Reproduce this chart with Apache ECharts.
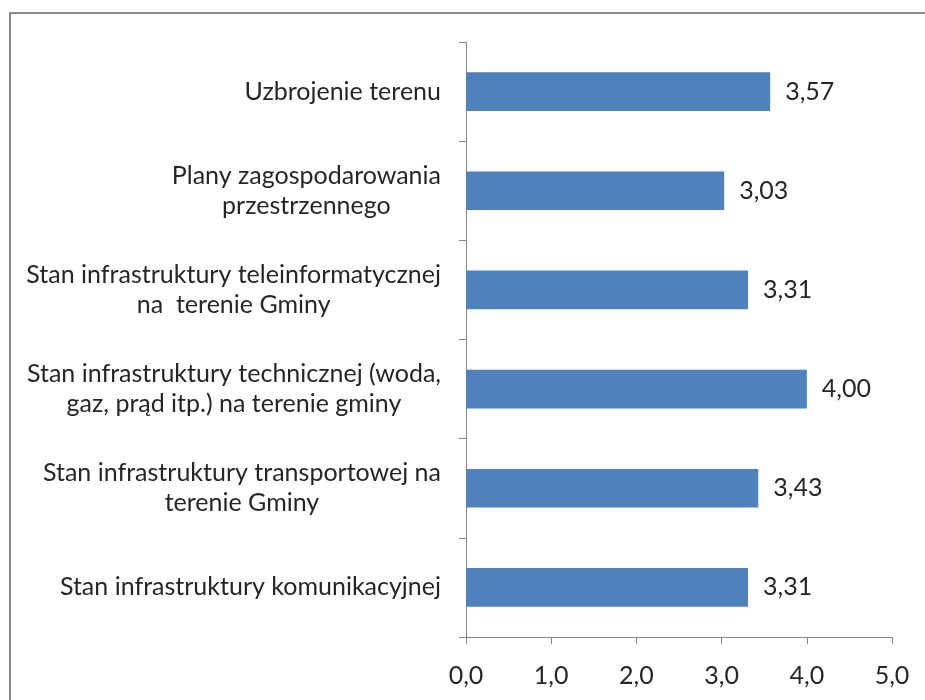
<!DOCTYPE html>
<html>
<head>
<meta charset="utf-8">
<script src="https://cdn.jsdelivr.net/npm/echarts@6/dist/echarts.min.js"></script>
<style>
html,body{margin:0;padding:0;background:#fff;}
#chart{width:925px;height:700px;}
</style>
</head>
<body>
<div id="chart"></div>
<script>
const categories = [
  "Uzbrojenie terenu",
  "Plany zagospodarowania\nprzestrzennego",
  "Stan infrastruktury teleinformatycznej\nna  terenie Gminy",
  "Stan infrastruktury technicznej (woda,\ngaz, prąd itp.) na terenie gminy",
  "Stan infrastruktury transportowej na\nterenie Gminy",
  "Stan infrastruktury komunikacyjnej"
];
const values = [3.57, 3.03, 3.31, 4.00, 3.43, 3.31];
const xTicks = { min: 0, max: 5, interval: 1 };

const FONT = 'Lato, "Open Sans", sans-serif';
const FS = 25;
const TXT = '#262626';
const AX = '#868686';

// build rich styles so that the lines of each multi-line label are centred
const ctx = document.createElement('canvas').getContext('2d');
ctx.font = FS + 'px ' + FONT;
const rich = { c: { align: 'right', fontSize: FS, fontFamily: FONT, color: TXT, lineHeight: 30 } };
const labelText = {};
categories.forEach((cat, i) => {
  const lines = cat.split('\n');
  const widths = lines.map(l => ctx.measureText(l).width);
  const maxW = Math.max.apply(null, widths);
  labelText[cat] = lines.map((l, j) => {
    const pad = (maxW - widths[j]) / 2;
    if (pad < 0.5) return '{c|' + l + '}';
    const name = 's' + i + '_' + j;
    rich[name] = { align: 'right', width: pad, fontSize: FS, fontFamily: FONT, color: 'rgba(0,0,0,0)', lineHeight: 30 };
    return '{c|' + l + '}{' + name + '| }';
  }).join('\n');
});

const chart = echarts.init(document.getElementById('chart'), null, {renderer: 'canvas'});
chart.setOption({
  animation: false,
  backgroundColor: '#fff',
  textStyle: { fontFamily: FONT },
  graphic: [{
    type: 'rect',
    shape: { x: 10, y: 13, width: 1200, height: 1200 },
    style: { fill: 'none', stroke: '#8c8c8c', lineWidth: 2 },
    silent: true
  }],
  grid: { left: 466, right: 33, top: 42, bottom: 63, containLabel: false },
  xAxis: {
    type: 'value',
    min: xTicks.min, max: xTicks.max, interval: xTicks.interval,
    axisLine: { show: true, lineStyle: { color: AX, width: 1 } },
    axisTick: { show: true, length: 7, lineStyle: { color: AX } },
    splitLine: { show: false },
    axisLabel: {
      margin: 26, color: TXT, fontSize: FS, fontFamily: FONT,
      formatter: v => v.toFixed(1).replace('.', ',')
    }
  },
  yAxis: {
    type: 'category',
    inverse: true,
    data: categories,
    axisLine: { show: true, lineStyle: { color: AX, width: 1 } },
    axisTick: { show: true, length: 7, lineStyle: { color: AX } },
    axisLabel: {
      margin: 25, color: TXT, fontSize: FS, fontFamily: FONT, align: 'right',
      lineHeight: 30,
      formatter: v => labelText[v] || v,
      rich: rich
    }
  },
  series: [{
    type: 'bar',
    data: values,
    barWidth: '39%',
    itemStyle: { color: '#4F81BD' },
    label: {
      show: true, position: 'right', distance: 15,
      color: TXT, fontSize: FS, fontFamily: FONT,
      formatter: p => p.value.toFixed(2).replace('.', ',')
    }
  }]
});
</script>
</body>
</html>
